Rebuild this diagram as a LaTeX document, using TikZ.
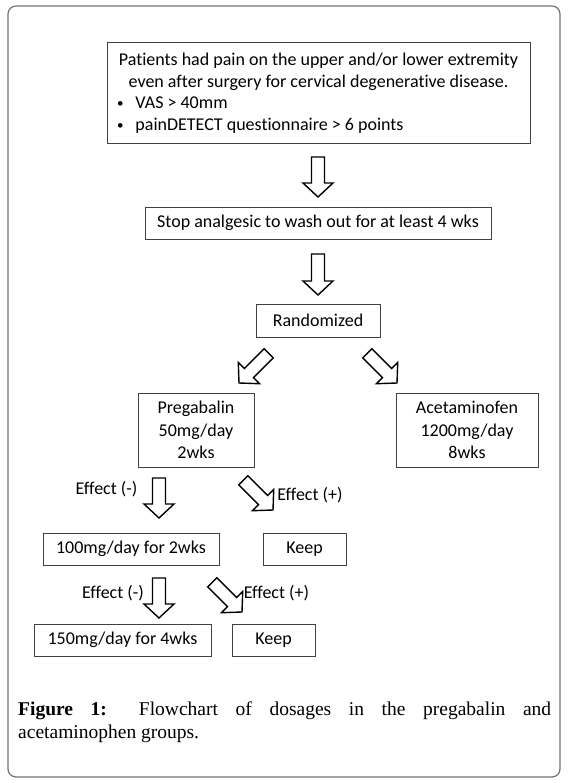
\documentclass[tikz,border=0pt]{standalone}
\usepackage{fontspec}
\setmainfont{Carlito}[Ligatures=NoCommon]
\newfontfamily\capfont{Liberation Serif}
\usetikzlibrary{calc}
\tikzset{
 box/.style={draw=black!75, line width=0.9pt, inner sep=0pt, align=center, font=\fontsize{18}{21.5}\selectfont},
 barrow/.style={draw=black, line width=1.4pt, line join=miter, fill=white},
 lbl/.style={font=\fontsize{18}{21.5}\selectfont, inner sep=0pt}
}
\newcommand\blkarrow[3]{%
 \draw[barrow, shift={#1}, rotate=#2] (-6.5,0) -- (-6.5,#3-14) -- (-15,#3-14) -- (0,#3) -- (15,#3-14) -- (6.5,#3-14) -- (6.5,0) -- cycle;}
\newcommand\smbul{\raisebox{1pt}{\fontsize{13}{13}\selectfont•}}
\begin{document}
\begin{tikzpicture}[x=1pt,y=-1pt]
\useasboundingbox (0,0) rectangle (567,783);
\draw[draw=black!55, line width=1.2pt, rounded corners=8pt] (8,6) rectangle (560,777);

\node[box, minimum width=423pt, minimum height=101pt] (b1) at (318.5,93)
 {Patients had pain on the upper and/or lower extremity\\
  even after surgery for cervical degenerative disease.\\
  \makebox[407pt][l]{\hspace{2pt}\smbul\hspace{12pt}VAS > 40mm}\\
  \makebox[407pt][l]{\hspace{2pt}\smbul\hspace{12pt}painDETECT questionnaire > 6 points}};
\node[box, minimum width=346pt, minimum height=32pt] (b2) at (318,223) {Stop analgesic to wash out for at least 4 wks};
\node[box, minimum width=124pt, minimum height=33pt] (b3) at (318,320.5) {Randomized};
\node[box, minimum width=116pt, minimum height=74pt, font=\fontsize{18}{22.5}\selectfont] (pg) at (196,430) {Pregabalin\\50mg/day\\2wks};
\node[box, minimum width=142pt, minimum height=74pt, font=\fontsize{18}{22.5}\selectfont] (ac) at (467,430) {Acetaminofen\\1200mg/day\\8wks};
\node[box, minimum width=176pt, minimum height=32pt] (d1) at (131,549) {100mg/day for 2wks};
\node[box, minimum width=83pt, minimum height=32pt] (k1) at (304.5,549) {Keep};
\node[box, minimum width=177pt, minimum height=32pt] (d2) at (122.5,640) {150mg/day for 4wks};
\node[box, minimum width=83pt, minimum height=32pt] (k2) at (273.5,640) {Keep};

\blkarrow{(318,157)}{0}{40}
\blkarrow{(318,254)}{0}{41}
\blkarrow{(268.7,353.3)}{-45}{42}
\blkarrow{(367.3,353.3)}{45}{42}
\blkarrow{(159,478)}{0}{40}
\blkarrow{(243.3,480.3)}{45}{42}
\blkarrow{(159,578)}{0}{40}
\blkarrow{(212.3,582.3)}{45}{42}

\node[lbl] (e1) at (106.5,489) {Effect (-)};
\node[lbl] (e2) at (310,495) {Effect (+)};
\node[lbl] (e3) at (113,593) {Effect (-)};
\node[lbl] (e4) at (276.5,593) {Effect (+)};

\node[anchor=west, inner sep=0pt, text width=533pt, align=justify, font=\capfont\fontsize{19.5}{23}\selectfont] (cap) at (18,722)
 {\textbf{Figure 1:} Flowchart of dosages in the pregabalin and\linebreak acetaminophen groups.};
\end{tikzpicture}
\end{document}
